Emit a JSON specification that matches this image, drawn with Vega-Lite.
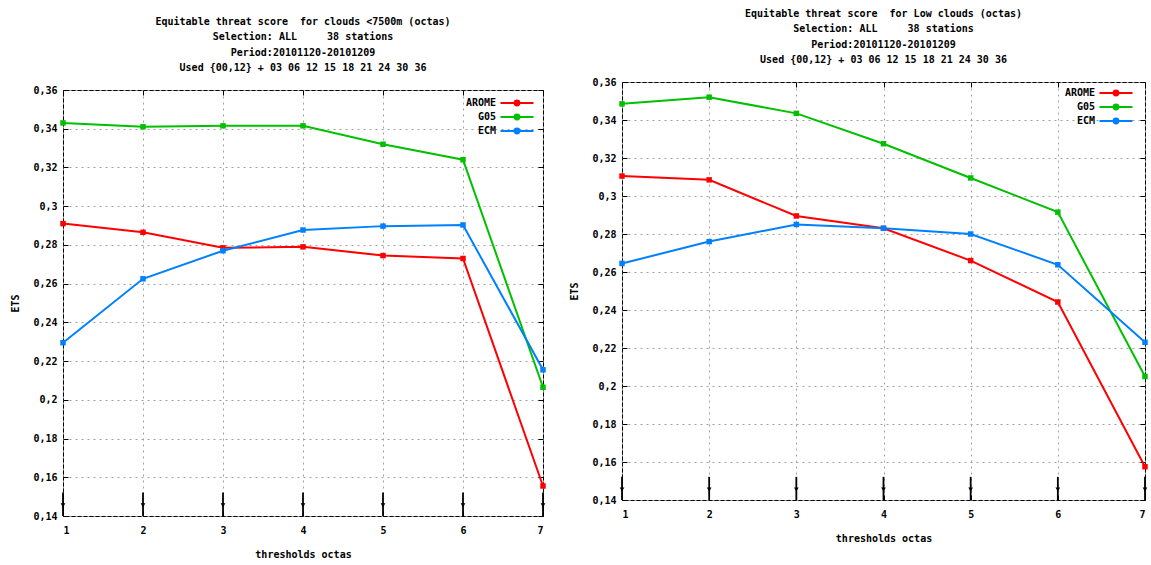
{
  "$schema": "https://vega.github.io/schema/vega-lite/v6.json",
  "padding": {"left": 10, "top": 1, "right": 5, "bottom": 5},
  "background": "white",
  "datasets": {
    "left": [
      {"threshold": 1, "model": "AROME", "ets": 0.291},
      {"threshold": 2, "model": "AROME", "ets": 0.2865},
      {"threshold": 3, "model": "AROME", "ets": 0.2785},
      {"threshold": 4, "model": "AROME", "ets": 0.279},
      {"threshold": 5, "model": "AROME", "ets": 0.2745},
      {"threshold": 6, "model": "AROME", "ets": 0.273},
      {"threshold": 7, "model": "AROME", "ets": 0.1555},
      {"threshold": 1, "model": "G05", "ets": 0.343},
      {"threshold": 2, "model": "G05", "ets": 0.341},
      {"threshold": 3, "model": "G05", "ets": 0.3415},
      {"threshold": 4, "model": "G05", "ets": 0.3415},
      {"threshold": 5, "model": "G05", "ets": 0.332},
      {"threshold": 6, "model": "G05", "ets": 0.324},
      {"threshold": 7, "model": "G05", "ets": 0.2065},
      {"threshold": 1, "model": "ECM", "ets": 0.2295},
      {"threshold": 2, "model": "ECM", "ets": 0.2625},
      {"threshold": 3, "model": "ECM", "ets": 0.277},
      {"threshold": 4, "model": "ECM", "ets": 0.2877},
      {"threshold": 5, "model": "ECM", "ets": 0.2897},
      {"threshold": 6, "model": "ECM", "ets": 0.2903},
      {"threshold": 7, "model": "ECM", "ets": 0.2155}
    ],
    "right": [
      {"threshold": 1, "model": "AROME", "ets": 0.3105},
      {"threshold": 2, "model": "AROME", "ets": 0.3085},
      {"threshold": 3, "model": "AROME", "ets": 0.2895},
      {"threshold": 4, "model": "AROME", "ets": 0.283},
      {"threshold": 5, "model": "AROME", "ets": 0.266},
      {"threshold": 6, "model": "AROME", "ets": 0.2442},
      {"threshold": 7, "model": "AROME", "ets": 0.1575},
      {"threshold": 1, "model": "G05", "ets": 0.3485},
      {"threshold": 2, "model": "G05", "ets": 0.352},
      {"threshold": 3, "model": "G05", "ets": 0.3435},
      {"threshold": 4, "model": "G05", "ets": 0.3275},
      {"threshold": 5, "model": "G05", "ets": 0.3095},
      {"threshold": 6, "model": "G05", "ets": 0.2915},
      {"threshold": 7, "model": "G05", "ets": 0.205},
      {"threshold": 1, "model": "ECM", "ets": 0.2645},
      {"threshold": 2, "model": "ECM", "ets": 0.276},
      {"threshold": 3, "model": "ECM", "ets": 0.285},
      {"threshold": 4, "model": "ECM", "ets": 0.283},
      {"threshold": 5, "model": "ECM", "ets": 0.28},
      {"threshold": 6, "model": "ECM", "ets": 0.2638},
      {"threshold": 7, "model": "ECM", "ets": 0.223}
    ],
    "arrows": [
      {"threshold": 1, "top": 0.1522, "bottom": 0.14, "head": 0.1455},
      {"threshold": 2, "top": 0.1522, "bottom": 0.14, "head": 0.1455},
      {"threshold": 3, "top": 0.1522, "bottom": 0.14, "head": 0.1455},
      {"threshold": 4, "top": 0.1522, "bottom": 0.14, "head": 0.1455},
      {"threshold": 5, "top": 0.1522, "bottom": 0.14, "head": 0.1455},
      {"threshold": 6, "top": 0.1522, "bottom": 0.14, "head": 0.1455},
      {"threshold": 7, "top": 0.1522, "bottom": 0.14, "head": 0.1455}
    ]
  },
  "hconcat": [
    {
      "spacing": 8,
      "vconcat": [
        {
          "width": 1,
          "height": 1,
          "data": {"values": [{}]},
          "mark": {"type": "point", "opacity": 0},
          "view": {"stroke": null}
        },
        {
          "width": 480,
          "height": 426,
          "title": {"text": ["Equitable threat score \u00a0for clouds <7500m (octas)", "Selection: ALL \u00a0\u00a0\u00a0\u00a038 stations", "Period:20101120-20101209", "Used {00,12} + 03 06 12 15 18 21 24 30 36"]},
          "layer": [
            {
              "data": {"name": "left"},
              "mark": {"type": "line", "strokeWidth": 2},
              "encoding": {
                "x": {"field": "threshold", "type": "quantitative", "scale": {"domain": [1, 7], "nice": false, "zero": false},
                      "axis": {"values": [1, 2, 3, 4, 5, 6, 7], "format": "d", "title": "thresholds octas", "orient": "bottom"}},
                "y": {"field": "ets", "type": "quantitative", "scale": {"domain": [0.14, 0.36], "nice": false, "zero": false},
                      "axis": {"values": [0.14, 0.16, 0.18, 0.2, 0.22, 0.24, 0.26, 0.28, 0.3, 0.32, 0.34, 0.36], "labelExpr": "replace(format(datum.value, '.2~f'), '.', ',')", "title": "ETS", "orient": "left"}},
                "color": {"field": "model", "type": "nominal", "scale": {"domain": ["AROME", "G05", "ECM"], "range": ["#ff0000", "#00c000", "#0080ff"]},
                          "legend": {"orient": "none", "legendX": 447, "legendY": 6}}
              }
            },
            {
              "data": {"name": "left"},
              "mark": {"type": "point", "shape": "square", "filled": true, "size": 30, "opacity": 1},
              "encoding": {
                "x": {"field": "threshold", "type": "quantitative", "axis": null},
                "y": {"field": "ets", "type": "quantitative", "axis": null},
                "color": {"field": "model", "type": "nominal", "legend": null}
              }
            },
            {
              "data": {"name": "arrows"},
              "mark": {"type": "rule", "strokeWidth": 1.8, "color": "black"},
              "encoding": {
                "x": {"field": "threshold", "type": "quantitative", "axis": {"orient": "top", "labels": false, "title": null, "grid": false, "values": [1, 2, 3, 4, 5, 6, 7]}},
                "y": {"field": "top", "type": "quantitative", "axis": {"orient": "right", "labels": false, "title": null, "grid": false, "values": [0.14, 0.16, 0.18, 0.2, 0.22, 0.24, 0.26, 0.28, 0.3, 0.32, 0.34, 0.36]}},
                "y2": {"field": "bottom"}
              }
            },
            {
              "data": {"name": "arrows"},
              "mark": {"type": "point", "shape": "triangle-down", "filled": true, "size": 22, "color": "black", "opacity": 1},
              "encoding": {
                "x": {"field": "threshold", "type": "quantitative", "axis": null},
                "y": {"field": "head", "type": "quantitative", "axis": null}
              }
            }
          ],
          "resolve": {"axis": {"x": "independent", "y": "independent"}}
        }
      ],
      "resolve": {"scale": {"color": "independent"}, "legend": {"color": "independent"}}
    },
    {
      "spacing": 0,
      "vconcat": [
        {
          "width": 1,
          "height": 1,
          "data": {"values": [{}]},
          "mark": {"type": "point", "opacity": 0},
          "view": {"stroke": null}
        },
        {
          "width": 523,
          "height": 418,
          "title": {"text": ["Equitable threat score \u00a0for Low clouds (octas)", "Selection: ALL \u00a0\u00a0\u00a0\u00a038 stations", "Period:20101120-20101209", "Used {00,12} + 03 06 12 15 18 21 24 30 36"]},
          "layer": [
            {
              "data": {"name": "right"},
              "mark": {"type": "line", "strokeWidth": 2},
              "encoding": {
                "x": {"field": "threshold", "type": "quantitative", "scale": {"domain": [1, 7], "nice": false, "zero": false},
                      "axis": {"values": [1, 2, 3, 4, 5, 6, 7], "format": "d", "title": "thresholds octas", "orient": "bottom"}},
                "y": {"field": "ets", "type": "quantitative", "scale": {"domain": [0.14, 0.36], "nice": false, "zero": false},
                      "axis": {"values": [0.14, 0.16, 0.18, 0.2, 0.22, 0.24, 0.26, 0.28, 0.3, 0.32, 0.34, 0.36], "labelExpr": "replace(format(datum.value, '.2~f'), '.', ',')", "title": "ETS", "orient": "left"}},
                "color": {"field": "model", "type": "nominal", "scale": {"domain": ["AROME", "G05", "ECM"], "range": ["#ff0000", "#00c000", "#0080ff"]},
                          "legend": {"orient": "none", "legendX": 487, "legendY": 4}}
              }
            },
            {
              "data": {"name": "right"},
              "mark": {"type": "point", "shape": "square", "filled": true, "size": 30, "opacity": 1},
              "encoding": {
                "x": {"field": "threshold", "type": "quantitative", "axis": null},
                "y": {"field": "ets", "type": "quantitative", "axis": null},
                "color": {"field": "model", "type": "nominal", "legend": null}
              }
            },
            {
              "data": {"name": "arrows"},
              "mark": {"type": "rule", "strokeWidth": 1.8, "color": "black"},
              "encoding": {
                "x": {"field": "threshold", "type": "quantitative", "axis": {"orient": "top", "labels": false, "title": null, "grid": false, "values": [1, 2, 3, 4, 5, 6, 7]}},
                "y": {"field": "top", "type": "quantitative", "axis": {"orient": "right", "labels": false, "title": null, "grid": false, "values": [0.14, 0.16, 0.18, 0.2, 0.22, 0.24, 0.26, 0.28, 0.3, 0.32, 0.34, 0.36]}},
                "y2": {"field": "bottom"}
              }
            },
            {
              "data": {"name": "arrows"},
              "mark": {"type": "point", "shape": "triangle-down", "filled": true, "size": 22, "color": "black", "opacity": 1},
              "encoding": {
                "x": {"field": "threshold", "type": "quantitative", "axis": null},
                "y": {"field": "head", "type": "quantitative", "axis": null}
              }
            }
          ],
          "resolve": {"axis": {"x": "independent", "y": "independent"}}
        }
      ],
      "resolve": {"scale": {"color": "independent"}, "legend": {"color": "independent"}}
    }
  ],
  "spacing": 21,
  "resolve": {"scale": {"color": "independent"}, "legend": {"color": "independent"}},
  "config": {
    "font": "DejaVu Sans Mono",
    "view": {"stroke": "black", "strokeWidth": 1},
    "title": {"font": "DejaVu Sans Mono", "fontSize": 10, "fontWeight": "bold", "color": "black", "lineHeight": 15.5, "anchor": "middle", "offset": 12},
    "axis": {
      "labelFont": "DejaVu Sans Mono", "labelFontSize": 10, "labelFontWeight": "bold", "labelColor": "black",
      "titleFont": "DejaVu Sans Mono", "titleFontSize": 10, "titleFontWeight": "bold", "titleColor": "black",
      "grid": true, "gridColor": "#a0a0a0", "gridDash": [2, 4], "gridWidth": 1,
      "domain": false, "ticks": true, "tickColor": "black", "tickSize": -5, "tickWidth": 1,
      "labelPadding": 11
    },
    "axisX": {"labelPadding": 14, "titlePadding": 14, "labelAngle": 0},
    "axisY": {"titlePadding": 12},
    "legend": {
      "title": null,
      "labelFont": "DejaVu Sans Mono", "labelFontSize": 10, "labelFontWeight": "bold", "labelColor": "black",
      "labelAlign": "right", "labelOffset": -28,
      "symbolType": "M-2.75,0H2.75M0.4,0A0.4,0.4,0,1,1,-0.4,0A0.4,0.4,0,1,1,0.4,0Z",
      "symbolSize": 144, "symbolStrokeWidth": 2, "symbolOffset": 0,
      "rowPadding": 0
    }
  }
}
